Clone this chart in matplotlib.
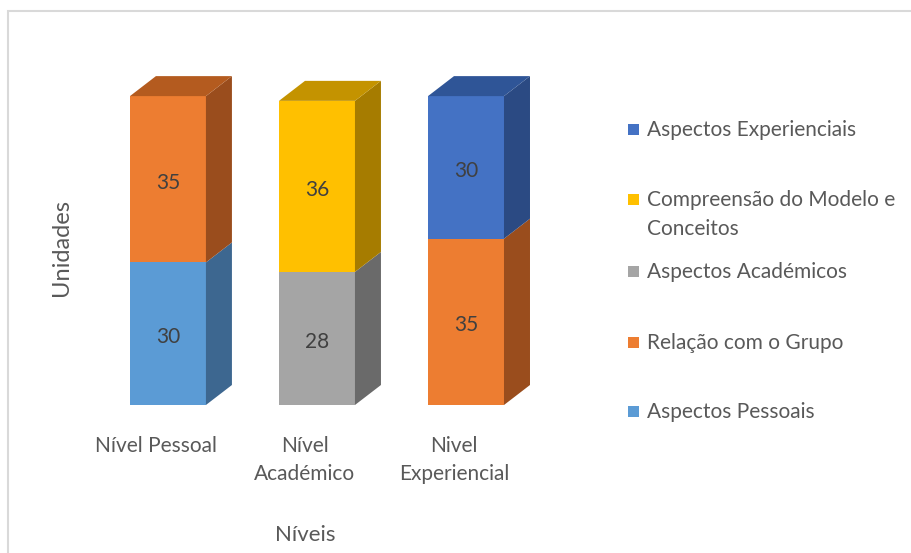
import matplotlib
matplotlib.use("Agg")
import matplotlib.pyplot as plt
from matplotlib.patches import Polygon, Rectangle
import numpy as np

plt.rcParams['font.family'] = ['Lato', 'DejaVu Sans']

categories = ["Nível Pessoal", "Nível\nAcadémico", "Nivel\nExperiencial"]
series_names = ["Aspectos Pessoais", "Relação com o Grupo", "Aspectos Académicos",
                "Compreensão do Modelo e\nConceitos", "Aspectos Experienciais"]
aspectos_pessoais = [30, 0, 0]
relacao_grupo = [35, 0, 35]
aspectos_academicos = [0, 28, 0]
compreensao_modelo = [0, 36, 0]
aspectos_experienciais = [0, 0, 30]
series_values = [aspectos_pessoais, relacao_grupo, aspectos_academicos,
                 compreensao_modelo, aspectos_experienciais]

front_colors = ["#5B9BD5", "#ED7D31", "#A5A5A5", "#FFC000", "#4472C4"]
top_colors = ["#4A7FB0", "#B45B1F", "#7E7E7E", "#C49300", "#2F5597"]
side_colors = ["#3D6790", "#9A4D1D", "#6A6A6A", "#A67C00", "#2B4A83"]

FS = 15
W, H = 912, 553
fig = plt.figure(figsize=(W / 100, H / 100), dpi=100)

# border (left and top visible, right/bottom run off the image)
fig.patches.append(Rectangle((8.5 / W, -20 / H), (W + 20) / W, (H + 20 - 10.5) / H,
                             transform=fig.transFigure, fill=False,
                             edgecolor="#D9D9D9", linewidth=1.5))

ax_l, ax_r, ax_b, ax_t = 80, 580, 405, 60
ax = fig.add_axes([ax_l / W, (H - ax_b) / H, (ax_r - ax_l) / W, (ax_b - ax_t) / H])
xmin, xmax = -0.59, 2.765
ymin, ymax = 0, 72.6
px_x = (ax_r - ax_l) / (xmax - xmin)
px_y = (ax_b - ax_t) / (ymax - ymin)

bw = 76 / px_x
ddx = 26 / px_x
ddy = 20 / px_y

n = len(categories)
bottoms = np.zeros(n)
tops_idx = [max(i for i, v in enumerate(col) if v > 0) for col in zip(*series_values)]
for s, vals in enumerate(series_values):
    for c in range(n):
        v = vals[c]
        if v <= 0:
            continue
        x0, x1 = c - bw / 2, c + bw / 2
        b, t = bottoms[c], bottoms[c] + v
        ax.add_patch(Polygon([(x0, b), (x1, b), (x1, t), (x0, t)],
                             closed=True, facecolor=front_colors[s], edgecolor="none"))
        ax.add_patch(Polygon([(x1, b), (x1 + ddx, b + ddy), (x1 + ddx, t + ddy), (x1, t)],
                             closed=True, facecolor=side_colors[s], edgecolor="none"))
        if tops_idx[c] == s:
            ax.add_patch(Polygon([(x0, t), (x1, t), (x1 + ddx, t + ddy), (x0 + ddx, t + ddy)],
                                 closed=True, facecolor=top_colors[s], edgecolor="none"))
        ax.annotate(f"{v}", (c, b + v / 2), xytext=(0, -2.5), textcoords="offset points",
                    ha="center", va="center", fontsize=FS, color="#404040")
        bottoms[c] += v

ax.set_xlim(xmin, xmax)
ax.set_ylim(ymin, ymax)
for sp in ax.spines.values():
    sp.set_visible(False)
ax.set_yticks([])
ax.set_xticks(np.arange(n) - 12 / px_x)
ax.set_xticklabels(categories, fontsize=FS, color="#595959")
ax.tick_params(axis="x", length=0, pad=22)
for lbl in ax.get_xticklabels():
    lbl.set_linespacing(1.55)

ax.set_xlabel("Níveis", fontsize=16, color="#595959")
ax.xaxis.set_label_coords((305 - ax_l) / (ax_r - ax_l), (ax_b - 535) / (ax_b - ax_t))
ax.xaxis.label.set_va("center")
ax.set_ylabel("Unidades", fontsize=17, color="#595959")
ax.yaxis.set_label_coords((62 - ax_l) / (ax_r - ax_l), (ax_b - 248) / (ax_b - ax_t))
ax.yaxis.label.set_va("center")

# legend (top to bottom: reverse order of series)
leg_y = [129, 199, 271, 342, 411]
for k, s in enumerate(reversed(range(len(series_names)))):
    yc = leg_y[k]
    fig.patches.append(Rectangle((628 / W, (H - yc - 5.5) / H), 11 / W, 11 / H,
                                 transform=fig.transFigure, facecolor=front_colors[s],
                                 edgecolor="none"))
    for j, line in enumerate(series_names[s].split("\n")):
        fig.text(647 / W, (H - (yc + 7 + 29 * j)) / H, line, fontsize=FS,
                 color="#595959", ha="left", va="baseline")

fig.savefig("out.png", dpi=100)
